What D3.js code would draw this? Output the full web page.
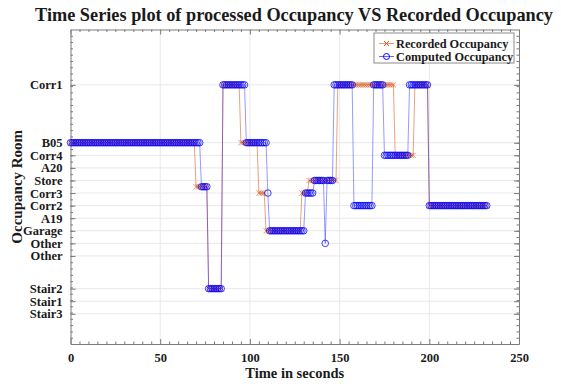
<!DOCTYPE html>
<html>
<head>
<meta charset="utf-8">
<script src="https://cdn.jsdelivr.net/npm/d3@7"></script>
<style>
  body { margin: 0; background: #fff; }
  svg text { font-family: "Liberation Serif", "Times New Roman", serif; font-weight: bold; fill: #1a1a1a; }
</style>
</head>
<body>
<div id="chart"></div>
<script>
// room labels on the y axis and the level each one sits at
const roomLabels = ["Stair3", "Stair1", "Stair2", "Other", "Other", "Garage", "A19", "Corr2", "Corr3", "Store", "A20", "Corr4", "B05", "Corr1"];
const roomLevels = [2.4, 3.4, 4.4, 7, 8, 9, 10, 11, 12, 13, 14, 15, 16, 20.6];
const xTicks = [0, 50, 100, 150, 200, 250];

// runs: [first second, last second, level]
const recordedRuns = [
  [0, 69, 16], [70, 76, 12.5], [77, 84, 4.4], [85, 94, 20.6], [95, 104, 16],
  [105, 108, 12], [109, 128, 9], [129, 132, 12], [133, 148, 13], [149, 180, 20.6],
  [181, 191, 15], [192, 199, 20.6], [200, 232, 11]
];
const computedRuns = [
  [0, 72, 16], [73, 76, 12.5], [77, 84, 4.4], [85, 97, 20.6], [98, 109, 16],
  [110, 110, 12], [111, 130, 9], [131, 135, 12], [136, 141, 13], [142, 142, 8],
  [143, 146, 13], [147, 157, 20.6], [158, 168, 11], [169, 174, 20.6], [175, 188, 15],
  [189, 199, 20.6], [200, 232, 11]
];

function samples(runs) {
  const out = [];
  runs.forEach(([a, b, v]) => { for (let t = a; t <= b; t++) out.push({ t: t, v: v }); });
  return out;
}
const recorded = samples(recordedRuns);
const computed = samples(computedRuns);

const W = 561, H = 388;
const margin = { top: 29.5, right: 42, bottom: 44, left: 70.5 };

const svg = d3.select("#chart").append("svg")
  .attr("width", W)
  .attr("height", H);

const x = d3.scaleLinear().domain([0, 250]).range([margin.left, W - margin.right]);
const y = d3.scaleLinear().domain([0, 25]).range([H - margin.bottom, margin.top]);

const axisColor = "#7a7a7a";
const gridColor = "#e8e8e8";

// grid
svg.append("g").selectAll("line")
  .data(xTicks.slice(1, -1))
  .enter().append("line")
  .attr("x1", d => x(d)).attr("x2", d => x(d))
  .attr("y1", y(0)).attr("y2", y(25))
  .attr("stroke", gridColor).attr("stroke-width", 1);

svg.append("g").selectAll("line")
  .data(roomLevels)
  .enter().append("line")
  .attr("x1", x(0)).attr("x2", x(250))
  .attr("y1", d => y(d)).attr("y2", d => y(d))
  .attr("stroke", gridColor).attr("stroke-width", 1);

// axes, box style with inward ticks
const minorX = d3.range(0, 251, 5).filter(d => d % 50 !== 0);
const minorY = d3.range(0.5, 25, 0.5);

function styleAxis(g) {
  g.select(".domain").attr("stroke", axisColor);
  g.selectAll(".tick line").attr("stroke", axisColor);
}

svg.append("g")
  .attr("transform", `translate(0,${y(0)})`)
  .call(d3.axisBottom(x).tickValues(xTicks).tickSizeInner(-5).tickSizeOuter(0).tickPadding(9))
  .call(styleAxis)
  .call(g => g.selectAll("text").attr("font-size", 12.5).attr("fill", "#1a1a1a"));
svg.append("g")
  .attr("transform", `translate(0,${y(0)})`)
  .call(d3.axisBottom(x).tickValues(minorX).tickSize(-2.5).tickFormat(""))
  .call(styleAxis).call(g => g.select(".domain").remove());

svg.append("g")
  .attr("transform", `translate(0,${y(25)})`)
  .call(d3.axisTop(x).tickValues(xTicks).tickSizeInner(-5).tickSizeOuter(0).tickFormat(""))
  .call(styleAxis);
svg.append("g")
  .attr("transform", `translate(0,${y(25)})`)
  .call(d3.axisTop(x).tickValues(minorX).tickSize(-2.5).tickFormat(""))
  .call(styleAxis).call(g => g.select(".domain").remove());

svg.append("g")
  .attr("transform", `translate(${x(0)},0)`)
  .call(d3.axisLeft(y).tickValues(roomLevels).tickSizeInner(-5).tickSizeOuter(0).tickPadding(8)
    .tickFormat((d, i) => roomLabels[i]))
  .call(styleAxis)
  .call(g => g.selectAll("text").attr("font-size", 12.5).attr("fill", "#1a1a1a"));
svg.append("g")
  .attr("transform", `translate(${x(0)},0)`)
  .call(d3.axisLeft(y).tickValues(minorY).tickSize(-2.5).tickFormat(""))
  .call(styleAxis).call(g => g.select(".domain").remove());

svg.append("g")
  .attr("transform", `translate(${x(250)},0)`)
  .call(d3.axisRight(y).tickValues(roomLevels).tickSizeInner(-5).tickSizeOuter(0).tickFormat(""))
  .call(styleAxis);
svg.append("g")
  .attr("transform", `translate(${x(250)},0)`)
  .call(d3.axisRight(y).tickValues(minorY).tickSize(-2.5).tickFormat(""))
  .call(styleAxis).call(g => g.select(".domain").remove());

// series
const orange = "#d95319";
const blue = "#0000ff";
const line = d3.line().x(d => x(d.t)).y(d => y(d.v));

svg.append("path")
  .datum(recorded)
  .attr("d", line)
  .attr("fill", "none")
  .attr("stroke", orange)
  .attr("stroke-opacity", 0.55)
  .attr("stroke-width", 1);

const xm = 2.6;
svg.append("g").selectAll("path")
  .data(recorded)
  .enter().append("path")
  .attr("d", d => `M${x(d.t) - xm},${y(d.v) - xm}L${x(d.t) + xm},${y(d.v) + xm}M${x(d.t) - xm},${y(d.v) + xm}L${x(d.t) + xm},${y(d.v) - xm}`)
  .attr("stroke", orange)
  .attr("stroke-opacity", 0.75)
  .attr("stroke-width", 0.8)
  .attr("fill", "none");

svg.append("path")
  .datum(computed)
  .attr("d", line)
  .attr("fill", "none")
  .attr("stroke", blue)
  .attr("stroke-opacity", 0.4)
  .attr("stroke-width", 1);

svg.append("g").selectAll("circle")
  .data(computed)
  .enter().append("circle")
  .attr("cx", d => x(d.t))
  .attr("cy", d => y(d.v))
  .attr("r", 3.3)
  .attr("fill", "none")
  .attr("stroke", blue)
  .attr("stroke-opacity", 0.75)
  .attr("stroke-width", 1);

// titles
svg.append("text")
  .attr("x", 294)
  .attr("y", 21)
  .attr("text-anchor", "middle")
  .attr("font-size", 18.3)
  .text("Time Series plot of processed Occupancy VS Recorded Occupancy");

svg.append("text")
  .attr("x", (x(0) + x(250)) / 2)
  .attr("y", 378)
  .attr("text-anchor", "middle")
  .attr("font-size", 14.5)
  .text("Time in seconds");

svg.append("text")
  .attr("transform", `translate(22,${(y(0) + y(25)) / 2}) rotate(-90)`)
  .attr("text-anchor", "middle")
  .attr("font-size", 15)
  .text("Occupancy Room");

// legend
const legend = svg.append("g").attr("transform", "translate(374,33)");
legend.append("rect")
  .attr("width", 140).attr("height", 30)
  .attr("fill", "#fff").attr("stroke", "#8c8c8c").attr("stroke-width", 1);

const items = [
  { name: "Recorded Occupancy", color: orange, mark: "x" },
  { name: "Computed Occupancy", color: blue, mark: "o" }
];
const li = legend.selectAll(".item")
  .data(items)
  .enter().append("g")
  .attr("transform", (d, i) => `translate(0,${10.5 + i * 13})`);
li.append("line")
  .attr("x1", 5).attr("x2", 20)
  .attr("stroke", d => d.color).attr("stroke-opacity", 0.6);
li.filter(d => d.mark === "o").append("circle")
  .attr("cx", 12.5).attr("r", 3)
  .attr("fill", "none").attr("stroke", blue);
li.filter(d => d.mark === "x").append("path")
  .attr("d", "M10,-2.5L15,2.5M10,2.5L15,-2.5")
  .attr("stroke", orange);
li.append("text")
  .attr("x", 22).attr("y", 4)
  .attr("font-size", 12.3)
  .text(d => d.name);
</script>
</body>
</html>
